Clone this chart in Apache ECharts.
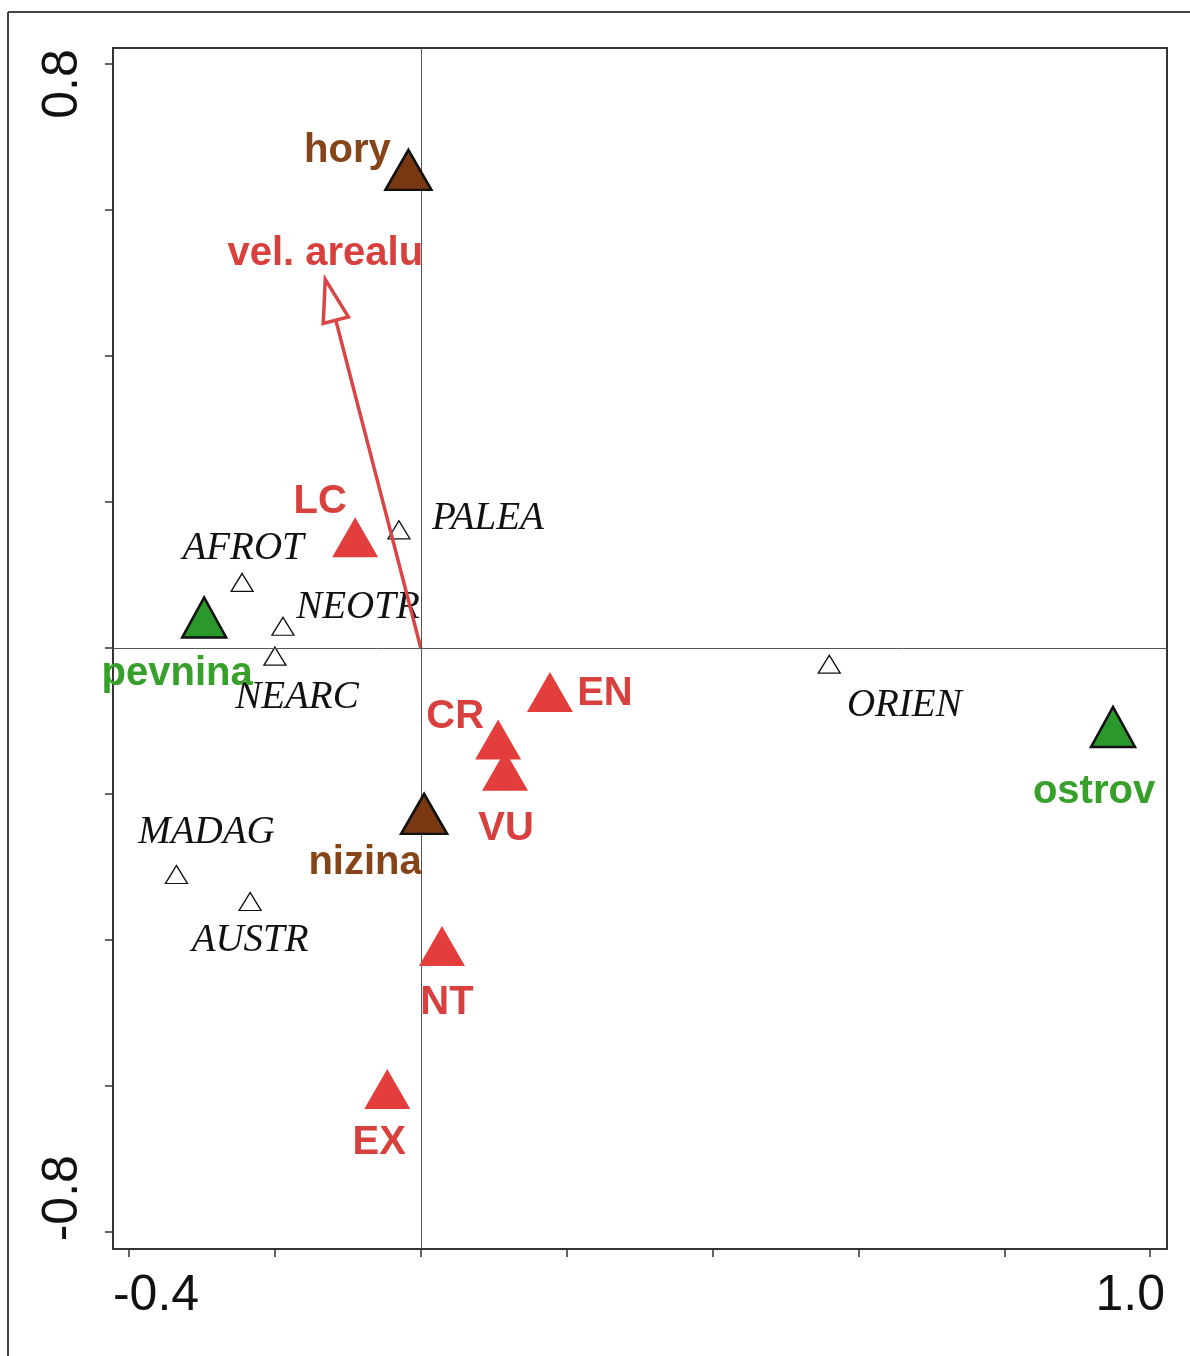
<!DOCTYPE html>
<html>
<head>
<meta charset="utf-8">
<script src="https://cdn.jsdelivr.net/npm/echarts@6/dist/echarts.min.js"></script>
<style>
  html, body { margin: 0; padding: 0; background: #fff; }
  #chart { width: 1190px; height: 1356px; }
</style>
</head>
<body>
<div id="chart"></div>
<script>
// Biogeographic regions (small open triangles)
const regionNames = ['PALEA', 'AFROT', 'NEOTR', 'NEARC', 'ORIEN', 'MADAG', 'AUSTR'];
const regionX = [-0.030, -0.245, -0.189, -0.200, 0.560, -0.335, -0.234];
const regionY = [0.162, 0.090, 0.030, -0.011, -0.022, -0.310, -0.347];

// IUCN threat categories (red triangles)
const threatNames = ['LC', 'CR', 'VU', 'EN', 'NT', 'EX'];
const threatX = [-0.090, 0.106, 0.1155, 0.177, 0.029, -0.046];
const threatY = [0.152, -0.125, -0.168, -0.060, -0.408, -0.604];

// Altitude classes (brown triangles)
const reliefNames = ['hory', 'nizina'];
const reliefX = [-0.017, 0.0045];
const reliefY = [0.655, -0.227];

// Mainland / island (green triangles)
const landNames = ['pevnina', 'ostrov'];
const landX = [-0.297, 0.949];
const landY = [0.042, -0.108];

// Quantitative variable drawn as a biplot arrow
const arrowNames = ['vel. arealu'];
const arrowX = [-0.131];
const arrowY = [0.505];

// Axis ticks and labels
const xTicks = [-0.4, -0.2, 0.0, 0.2, 0.4, 0.6, 0.8, 1.0];
const xTickLabels = [-0.4, 1.0];
const yTicks = [-0.8, -0.6, -0.4, -0.2, 0.0, 0.2, 0.4, 0.6, 0.8];
const yTickLabels = [-0.8, 0.8];

// Label offsets (pixels from the symbol centre)
const labelOffset = {
  PALEA: [89, -11], AFROT: [1, -34], NEOTR: [75, -18], NEARC: [22, 42],
  ORIEN: [75, 42], MADAG: [30, -42], AUSTR: [0, 39],
  LC: [-35, -35], CR: [-43, -22], VU: [1, 58], EN: [55, 2], NT: [5, 57], EX: [-8, 54],
  hory: [-61, -19], nizina: [-59, 49],
  pevnina: [-27, 56], ostrov: [-19, 65]
};

const SANS = '"Liberation Sans", Arial, sans-serif';
const SERIF = '"Liberation Serif", "Times New Roman", serif';

function points(names, xs, ys, textStyle) {
  return names.map((n, i) => ({
    name: n,
    value: [xs[i], ys[i]],
    label: Object.assign({
      show: true,
      position: 'inside',
      align: 'center',
      verticalAlign: 'middle',
      formatter: n,
      offset: labelOffset[n]
    }, textStyle)
  }));
}

const redText = { color: '#d8403e', fontFamily: SANS, fontWeight: 'bold', fontSize: 40 };
const brownText = { color: '#854519', fontFamily: SANS, fontWeight: 'bold', fontSize: 40 };
const greenText = { color: '#36a02a', fontFamily: SANS, fontWeight: 'bold', fontSize: 40 };
const regionText = { color: '#111', fontFamily: SERIF, fontStyle: 'italic', fontSize: 39 };

const chart = echarts.init(document.getElementById('chart'), null, { renderer: 'canvas' });

const option = {
  backgroundColor: '#fff',
  animation: false,
  graphic: [
    { type: 'line', shape: { x1: 8, y1: 12, x2: 1190, y2: 12 }, style: { stroke: '#444', lineWidth: 2 } },
    { type: 'line', shape: { x1: 8, y1: 12, x2: 8, y2: 1356 }, style: { stroke: '#444', lineWidth: 2 } }
  ],
  grid: {
    left: 113, right: 23, top: 48, bottom: 107,
    show: true, borderColor: '#333', borderWidth: 2, backgroundColor: 'transparent'
  },
  xAxis: {
    type: 'value', min: -0.422, max: 1.023,
    splitLine: { show: false },
    axisLine: { show: true, onZero: false, lineStyle: { color: '#333', width: 2 } },
    axisTick: { show: true, customValues: xTicks, length: 8, lineStyle: { color: '#333', width: 1.5 } },
    axisLabel: {
      show: true, customValues: xTickLabels, margin: 22,
      color: '#111', fontFamily: SANS, fontSize: 50,
      formatter: v => (v < 0 ? '{lo|' : '{hi|') + v.toFixed(1) + '}',
      rich: {
        lo: { fontFamily: SANS, fontSize: 50, color: '#111', padding: [0, 0, 0, 54] },
        hi: { fontFamily: SANS, fontSize: 50, color: '#111', padding: [0, 40, 0, 0] }
      }
    }
  },
  yAxis: {
    type: 'value', min: -0.823, max: 0.822,
    splitLine: { show: false },
    axisLine: { show: true, onZero: false, lineStyle: { color: '#333', width: 2 } },
    axisTick: { show: true, customValues: yTicks, length: 8, lineStyle: { color: '#333', width: 1.5 } },
    axisLabel: {
      show: true, customValues: yTickLabels, rotate: 90, margin: 25,
      color: '#111', fontFamily: SANS, fontSize: 50,
      formatter: v => (v < 0 ? '{lo|' : '{hi|') + v.toFixed(1) + '}',
      rich: {
        lo: { fontFamily: SANS, fontSize: 50, color: '#111', padding: [0, 0, 0, 68] },
        hi: { fontFamily: SANS, fontSize: 50, color: '#111', padding: [0, 40, 0, 0] }
      }
    }
  },
  series: [
    {
      // zero cross-hair lines
      type: 'line', data: [], silent: true, z: 1,
      markLine: {
        silent: true, symbol: 'none', animation: false,
        label: { show: false },
        lineStyle: { color: '#555', width: 1, type: 'solid', opacity: 1 },
        data: [{ xAxis: 0 }, { yAxis: 0 }]
      }
    },
    {
      name: 'regions', type: 'scatter', z: 3,
      symbol: 'triangle', symbolSize: [22, 18],
      itemStyle: { color: '#fff', borderColor: '#111', borderWidth: 1.3, opacity: 1 },
      data: points(regionNames, regionX, regionY, regionText)
    },
    {
      name: 'arrow', type: 'custom', z: 4,
      renderItem: function (params, api) {
        const o = api.coord([0, 0]);
        const t = api.coord([api.value(0), api.value(1)]);
        const dx = t[0] - o[0], dy = t[1] - o[1];
        const len = Math.sqrt(dx * dx + dy * dy);
        const ux = dx / len, uy = dy / len;
        const headLen = 42, halfW = 13;
        const bx = t[0] - ux * headLen, by = t[1] - uy * headLen;
        const px = -uy, py = ux;
        return {
          type: 'group',
          children: [
            { type: 'line', shape: { x1: o[0], y1: o[1], x2: bx, y2: by },
              style: { stroke: '#d94545', lineWidth: 3.5 } },
            { type: 'polygon',
              shape: { points: [[t[0], t[1]], [bx + px * halfW, by + py * halfW], [bx - px * halfW, by - py * halfW]] },
              style: { fill: '#fff', stroke: '#d94545', lineWidth: 3.5 } },
            { type: 'text', x: t[0], y: t[1] - 25,
              style: { text: arrowNames[params.dataIndex], fill: '#d8403e', font: 'bold 40px ' + SANS,
                       align: 'center', verticalAlign: 'middle' } }
          ]
        };
      },
      data: arrowX.map((x, i) => [x, arrowY[i]])
    },
    {
      name: 'threat', type: 'scatter', z: 5,
      symbol: 'triangle', symbolSize: [46, 40],
      itemStyle: { color: '#e33e3b', opacity: 1 },
      data: points(threatNames, threatX, threatY, redText)
    },
    {
      name: 'relief', type: 'scatter', z: 5,
      symbol: 'triangle', symbolSize: [46, 40],
      itemStyle: { color: '#7a3812', borderColor: '#111', borderWidth: 2.5, opacity: 1 },
      data: points(reliefNames, reliefX, reliefY, brownText)
    },
    {
      name: 'land', type: 'scatter', z: 5,
      symbol: 'triangle', symbolSize: [44, 40],
      itemStyle: { color: '#2a982a', borderColor: '#111', borderWidth: 2.5, opacity: 1 },
      data: points(landNames, landX, landY, greenText)
    }
  ]
};

chart.setOption(option);
</script>
</body>
</html>
